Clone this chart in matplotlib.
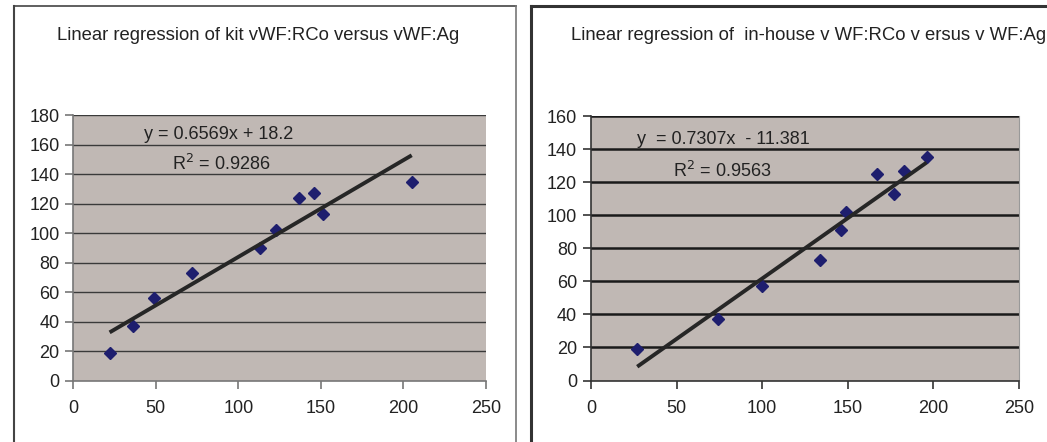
import matplotlib
matplotlib.use("Agg")
import matplotlib.pyplot as plt
from matplotlib.lines import Line2D

plt.rcParams["font.family"] = ["Liberation Sans", "DejaVu Sans"]

# kit vWF:RCo vs vWF:Ag
kit_x = [22, 36, 49, 72, 113, 123, 137, 146, 151, 205]
kit_y = [19, 37, 56, 73, 90, 102, 124, 127, 113, 135]
kit_slope, kit_icpt = 0.6569, 18.2
kit_eq = "y = 0.6569x + 18.2"
kit_r2 = "R$^2$ = 0.9286"

# in-house vWF:RCo vs vWF:Ag
ih_x = [27, 74, 100, 134, 146, 149, 167, 177, 183, 196]
ih_y = [19, 37, 57, 73, 91, 102, 125, 113, 127, 135]
ih_slope, ih_icpt = 0.7307, -11.381
ih_eq = "y  = 0.7307x  - 11.381"
ih_r2 = "R$^2$ = 0.9563"

W, H = 1047, 442
fig = plt.figure(figsize=(W / 100, H / 100), dpi=100)
fig.patch.set_facecolor("white")


def px(x0, y0, x1, y1):
    return [x0 / W, 1 - y1 / H, (x1 - x0) / W, (y1 - y0) / H]


def fx(x):
    return x / W


def fy(y):
    return 1 - y / H


# panel frames
fig.add_artist(Line2D([fx(14), fx(14)], [fy(6), 0], color="#444444", lw=1.5))
fig.add_artist(Line2D([fx(14), fx(516)], [fy(6), fy(6)], color="#444444", lw=1.2))
fig.add_artist(Line2D([fx(516), fx(516)], [fy(6), 0], color="#777777", lw=1.2))
fig.add_artist(Line2D([fx(531), fx(531)], [fy(6), 0], color="#333333", lw=2.2))
fig.add_artist(Line2D([fx(531), 1], [fy(6), fy(6)], color="#333333", lw=2.2))

bg = "#C0B8B4"
fs = 13


def panel(rect, xs, ys, slope, icpt, ymax, ystep, grid_lw, grid_col, spine_col):
    ax = fig.add_axes(rect)
    ax.set_facecolor(bg)
    ax.set_xlim(0, 250)
    ax.set_ylim(0, ymax)
    ax.set_xticks(range(0, 251, 50))
    ax.set_yticks(range(0, ymax + 1, ystep))
    for v in range(ystep, ymax + 1, ystep):
        ax.axhline(v, color=grid_col, lw=grid_lw, zorder=1)
    for s in ["top", "right"]:
        ax.spines[s].set_visible(False)
    for s in ["left", "bottom"]:
        ax.spines[s].set_color(spine_col)
        ax.spines[s].set_linewidth(1.2)
    ax.tick_params(direction="out", length=6, width=1.2, color=spine_col,
                   labelsize=fs, labelcolor="#222222")
    ax.tick_params(axis="x", pad=8)
    ax.tick_params(axis="y", pad=4)
    ax.plot(xs, ys, "D", color="#1E1E6E", markersize=6.5, zorder=3, clip_on=False)
    x0, x1 = min(xs), max(xs)
    ax.plot([x0, x1], [slope * x0 + icpt, slope * x1 + icpt],
            color="#262626", lw=2.8, zorder=4, solid_capstyle="butt")
    return ax


ax1 = panel(px(73.3, 115.3, 486, 380.5), kit_x, kit_y, kit_slope, kit_icpt,
            180, 20, 1.0, "#3a3a3a", "#777777")
ax1.text(43, 167, kit_eq, fontsize=fs, color="#222222", va="center", zorder=5)
ax1.text(60, 147, kit_r2, fontsize=fs, color="#222222", va="center", zorder=5)
fig.text(fx(258), fy(35), "Linear regression of kit vWF:RCo versus vWF:Ag",
         ha="center", va="center", fontsize=13.3, color="#222222")

ax2 = panel(px(591, 116, 1019, 380.5), ih_x, ih_y, ih_slope, ih_icpt,
            160, 20, 1.8, "#1a1a1a", "#333333")
ax2.spines["right"].set_visible(True)
ax2.spines["right"].set_color("#999999")
ax2.text(27, 145.5, ih_eq, fontsize=fs, color="#222222", va="center", zorder=5)
ax2.text(48, 127, ih_r2, fontsize=fs, color="#222222", va="center", zorder=5)
fig.text(fx(571), fy(35), "Linear regression of  in-house v WF:RCo v ersus v WF:Ag",
         ha="left", va="center", fontsize=13.3, color="#222222")

fig.savefig("out.png", dpi=100, facecolor="white")
